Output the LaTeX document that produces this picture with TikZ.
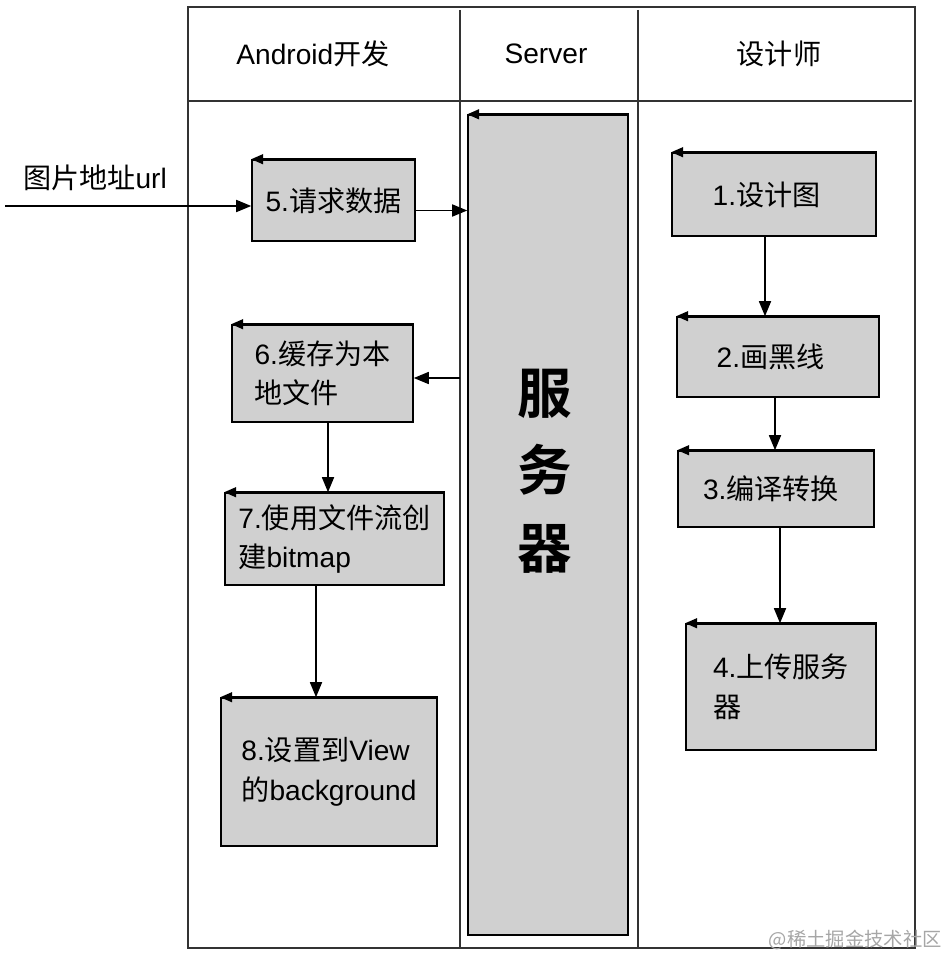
\documentclass[tikz,border=0pt]{standalone}
\usepackage{fontspec}
\usepackage{tikz}
\usetikzlibrary{arrows.meta,positioning}
\setmainfont{Liberation Sans}
\newfontfamily\cjk{Noto Sans CJK SC}[BoldFont={Noto Sans CJK SC Bold}]
\definecolor{boxgray}{HTML}{D0D0D0}
\definecolor{framegray}{HTML}{333333}

\begin{document}
\begin{tikzpicture}[x=0.02cm, y=-0.02cm,
    task/.style={draw, line width=0.9pt, fill=boxgray, inner sep=0pt, align=left,
        font=\fontsize{16}{22.5}\selectfont},
    flow/.style={-{Triangle[length=0.3cm,width=0.24cm]}, line width=0.9pt},
    cornertip/.style={-{Triangle[length=0.24cm,width=0.2cm]}, line width=0.9pt},
    lane/.style={font=\fontsize{16}{20}\selectfont}]
    \useasboundingbox (0,0) rectangle (946,956);

    % Swimlane frame
    \draw[line width=1pt, framegray] (188,7) rectangle (915,948);
    \draw[line width=1pt, framegray] (188,101) -- (912,101);
    \coordinate (d1top) at (460,10);
    \coordinate (d1bot) at (460,948);
    \coordinate (d2top) at (638,10);
    \coordinate (d2bot) at (638,948);
    \draw[line width=1pt, framegray] (d1top) -- (d1bot);
    \draw[line width=1pt, framegray] (d2top) -- (d2bot);

    % Lane headers
    \node[lane] (hAndroid) at (313,54) {Android{\cjk 开发}};
    \node[lane] (hServer) at (546,54) {Server};
    \node[lane] (hDesign) at (779,54) {\cjk 设计师};

    % Server lane
    \node[task, minimum width=3.2cm, minimum height=16.4cm] (srv) at (548,525) {};
    \node[font=\cjk\bfseries\fontsize{31}{44}\selectfont, align=center] (srvlabel) at (545,471) {服\\务\\器};

    % Designer lane
    \node[task, minimum width=4.08cm, minimum height=1.66cm] (b1) at (774,194.5) {1.{\cjk 设计图}\hspace*{0.3cm}};
    \node[task, minimum width=4.04cm, minimum height=1.6cm] (b2) at (778,357) {2.{\cjk 画黑线}\hspace*{0.3cm}};
    \node[task, minimum width=3.92cm, minimum height=1.52cm] (b3) at (776,489) {3.{\cjk 编译转换}\hspace*{0.2cm}};
    \node[task, minimum width=3.8cm, minimum height=2.52cm] (b4) at (781,687) {4.{\cjk 上传服务}\\{\cjk 器}};

    % Android lane
    \node[task, minimum width=3.26cm, minimum height=1.62cm] (b5) at (333.5,200.5) {5.{\cjk 请求数据}};
    \node[task, minimum width=3.62cm, minimum height=1.94cm] (b6) at (322.5,373.5) {6.{\cjk 缓存为本}\\{\cjk 地文件}};
    \node[task, minimum width=4.38cm, minimum height=1.84cm] (b7) at (334.5,539) {7.{\cjk 使用文件流创}\\{\cjk 建}bitmap};
    \node[task, minimum width=4.32cm, minimum height=2.96cm] (b8) at (329,772) {8.{\cjk 设置到}View\\{\cjk 的}background};

    % Corner marks
    \foreach \n in {srv,b1,b2,b3,b4,b5,b6,b7,b8}
        \draw[cornertip] (\n.north east) -- (\n.north west);

    % Input
    \coordinate (src) at (5,206);
    \node[lane] (urllabel) at (95,178) {{\cjk 图片地址}url};
    \draw[flow] (src) -- (src -| b5.west);

    % Connectors
    \draw[flow] ([yshift=-0.2cm]b5.east) -- ([yshift=-0.2cm]b5.east -| srv.west);
    \draw[flow] ([yshift=-0.09cm]b6.east -| d1top) -- ([yshift=-0.09cm]b6.east);
    \draw[flow] ([xshift=0.11cm]b6.south) -- ([xshift=0.11cm]b6.south |- b7.north);
    \draw[flow] ([xshift=-0.37cm]b7.south) -- ([xshift=-0.37cm]b7.south |- b8.north);
    \draw[flow] ([xshift=-0.18cm]b1.south) -- ([xshift=-0.18cm]b1.south |- b2.north);
    \draw[flow] ([xshift=-0.06cm]b2.south) -- ([xshift=-0.06cm]b2.south |- b3.north);
    \draw[flow] ([xshift=0.08cm]b3.south) -- ([xshift=0.08cm]b3.south |- b4.north);

    % Watermark
    \node[anchor=east, text=gray!70, font=\cjk\fontsize{11}{13}\selectfont, inner sep=0pt] (mark) at (942,940) {@稀土掘金技术社区};
\end{tikzpicture}
\end{document}
